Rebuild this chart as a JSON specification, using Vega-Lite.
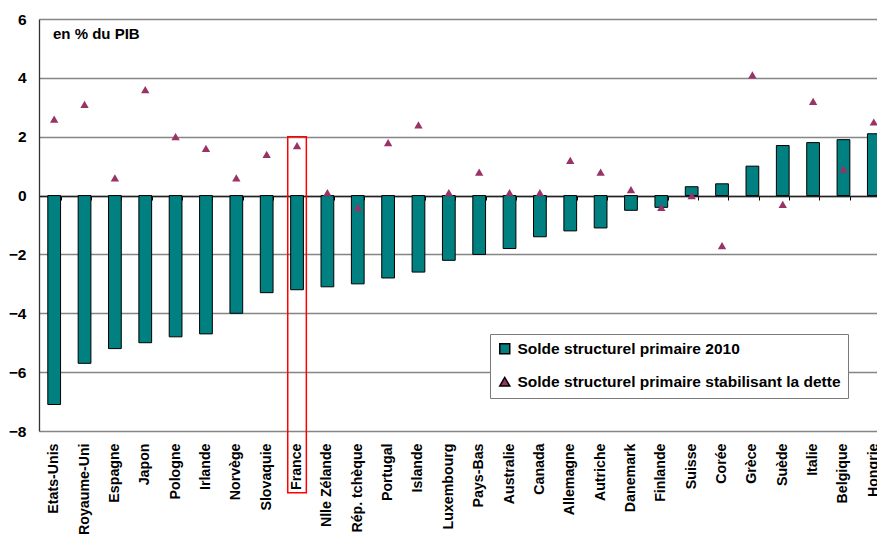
{
  "$schema": "https://vega.github.io/schema/vega-lite/v6.json",
  "width": 838,
  "height": 412,
  "autosize": {"type": "none"},
  "padding": {"left": 39, "top": 19, "right": 0, "bottom": 106},
  "background": "white",
  "title": {
    "text": "en % du PIB",
    "frame": "group",
    "anchor": "start",
    "baseline": "alphabetic",
    "offset": -18.5,
    "dx": 14,
    "dy": 23,
    "font": "Liberation Sans",
    "fontSize": 15,
    "fontWeight": "bold",
    "color": "black"
  },
  "config": {
    "view": {"stroke": null},
    "font": "Liberation Sans"
  },
  "data": {
    "values": [
      {"pays": "Etats-Unis", "serie": "Solde structurel primaire 2010", "valeur": -7.1},
      {"pays": "Royaume-Uni", "serie": "Solde structurel primaire 2010", "valeur": -5.7},
      {"pays": "Espagne", "serie": "Solde structurel primaire 2010", "valeur": -5.2},
      {"pays": "Japon", "serie": "Solde structurel primaire 2010", "valeur": -5.0},
      {"pays": "Pologne", "serie": "Solde structurel primaire 2010", "valeur": -4.8},
      {"pays": "Irlande", "serie": "Solde structurel primaire 2010", "valeur": -4.7},
      {"pays": "Norvège", "serie": "Solde structurel primaire 2010", "valeur": -4.0},
      {"pays": "Slovaquie", "serie": "Solde structurel primaire 2010", "valeur": -3.3},
      {"pays": "France", "serie": "Solde structurel primaire 2010", "valeur": -3.2},
      {"pays": "Nlle Zélande", "serie": "Solde structurel primaire 2010", "valeur": -3.1},
      {"pays": "Rép. tchèque", "serie": "Solde structurel primaire 2010", "valeur": -3.0},
      {"pays": "Portugal", "serie": "Solde structurel primaire 2010", "valeur": -2.8},
      {"pays": "Islande", "serie": "Solde structurel primaire 2010", "valeur": -2.6},
      {"pays": "Luxembourg", "serie": "Solde structurel primaire 2010", "valeur": -2.2},
      {"pays": "Pays-Bas", "serie": "Solde structurel primaire 2010", "valeur": -2.0},
      {"pays": "Australie", "serie": "Solde structurel primaire 2010", "valeur": -1.8},
      {"pays": "Canada", "serie": "Solde structurel primaire 2010", "valeur": -1.4},
      {"pays": "Allemagne", "serie": "Solde structurel primaire 2010", "valeur": -1.2},
      {"pays": "Autriche", "serie": "Solde structurel primaire 2010", "valeur": -1.1},
      {"pays": "Danemark", "serie": "Solde structurel primaire 2010", "valeur": -0.5},
      {"pays": "Finlande", "serie": "Solde structurel primaire 2010", "valeur": -0.4},
      {"pays": "Suisse", "serie": "Solde structurel primaire 2010", "valeur": 0.3},
      {"pays": "Corée", "serie": "Solde structurel primaire 2010", "valeur": 0.4},
      {"pays": "Grèce", "serie": "Solde structurel primaire 2010", "valeur": 1.0},
      {"pays": "Suède", "serie": "Solde structurel primaire 2010", "valeur": 1.7},
      {"pays": "Italie", "serie": "Solde structurel primaire 2010", "valeur": 1.8},
      {"pays": "Belgique", "serie": "Solde structurel primaire 2010", "valeur": 1.9},
      {"pays": "Hongrie", "serie": "Solde structurel primaire 2010", "valeur": 2.1},
      {"pays": "Etats-Unis", "serie": "Solde structurel primaire stabilisant la dette", "valeur": 2.6},
      {"pays": "Royaume-Uni", "serie": "Solde structurel primaire stabilisant la dette", "valeur": 3.1},
      {"pays": "Espagne", "serie": "Solde structurel primaire stabilisant la dette", "valeur": 0.6},
      {"pays": "Japon", "serie": "Solde structurel primaire stabilisant la dette", "valeur": 3.6},
      {"pays": "Pologne", "serie": "Solde structurel primaire stabilisant la dette", "valeur": 2.0},
      {"pays": "Irlande", "serie": "Solde structurel primaire stabilisant la dette", "valeur": 1.6},
      {"pays": "Norvège", "serie": "Solde structurel primaire stabilisant la dette", "valeur": 0.6},
      {"pays": "Slovaquie", "serie": "Solde structurel primaire stabilisant la dette", "valeur": 1.4},
      {"pays": "France", "serie": "Solde structurel primaire stabilisant la dette", "valeur": 1.7},
      {"pays": "Nlle Zélande", "serie": "Solde structurel primaire stabilisant la dette", "valeur": 0.1},
      {"pays": "Rép. tchèque", "serie": "Solde structurel primaire stabilisant la dette", "valeur": -0.4},
      {"pays": "Portugal", "serie": "Solde structurel primaire stabilisant la dette", "valeur": 1.8},
      {"pays": "Islande", "serie": "Solde structurel primaire stabilisant la dette", "valeur": 2.4},
      {"pays": "Luxembourg", "serie": "Solde structurel primaire stabilisant la dette", "valeur": 0.1},
      {"pays": "Pays-Bas", "serie": "Solde structurel primaire stabilisant la dette", "valeur": 0.8},
      {"pays": "Australie", "serie": "Solde structurel primaire stabilisant la dette", "valeur": 0.1},
      {"pays": "Canada", "serie": "Solde structurel primaire stabilisant la dette", "valeur": 0.1},
      {"pays": "Allemagne", "serie": "Solde structurel primaire stabilisant la dette", "valeur": 1.2},
      {"pays": "Autriche", "serie": "Solde structurel primaire stabilisant la dette", "valeur": 0.8},
      {"pays": "Danemark", "serie": "Solde structurel primaire stabilisant la dette", "valeur": 0.2},
      {"pays": "Finlande", "serie": "Solde structurel primaire stabilisant la dette", "valeur": -0.4},
      {"pays": "Suisse", "serie": "Solde structurel primaire stabilisant la dette", "valeur": 0.0},
      {"pays": "Corée", "serie": "Solde structurel primaire stabilisant la dette", "valeur": -1.7},
      {"pays": "Grèce", "serie": "Solde structurel primaire stabilisant la dette", "valeur": 4.1},
      {"pays": "Suède", "serie": "Solde structurel primaire stabilisant la dette", "valeur": -0.3},
      {"pays": "Italie", "serie": "Solde structurel primaire stabilisant la dette", "valeur": 3.2},
      {"pays": "Belgique", "serie": "Solde structurel primaire stabilisant la dette", "valeur": 0.9},
      {"pays": "Hongrie", "serie": "Solde structurel primaire stabilisant la dette", "valeur": 2.5}
    ]
  },
  "resolve": {"axis": {"x": "independent"}},
  "layer": [
    {
      "transform": [{"filter": "datum.serie === 'Solde structurel primaire 2010'"}],
      "mark": {"type": "bar", "stroke": "black", "strokeWidth": 1},
      "encoding": {
        "x": {
          "field": "pays",
          "type": "nominal",
          "sort": null,
          "scale": {"range": [0, 850], "paddingInner": 0.58, "paddingOuter": 0.29},
          "axis": {
            "title": null,
            "orient": "bottom",
            "domain": false,
            "ticks": false,
            "labelAngle": -90,
            "labelAlign": "right",
            "labelBaseline": "middle",
            "labelPadding": 12,
            "labelFont": "Liberation Sans",
            "labelFontSize": 14.2,
            "labelFontWeight": "bold",
            "labelColor": "black",
            "labelOverlap": false
          }
        },
        "y": {
          "field": "valeur",
          "type": "quantitative",
          "scale": {"domain": [-8, 6], "nice": false, "zero": false},
          "axis": {
            "title": null,
            "values": [-8, -6, -4, -2, 0, 2, 4, 6],
            "ticks": false,
            "labelPadding": 13,
            "labelFont": "Liberation Sans",
            "labelFontSize": 15.5,
            "labelFontWeight": "bold",
            "labelColor": "black",
            "domainColor": "#333333",
            "domainWidth": 1.3,
            "grid": true,
            "gridColor": "#858585",
            "gridWidth": 1.4
          }
        },
        "color": {
          "field": "serie",
          "type": "nominal",
          "scale": {
            "domain": ["Solde structurel primaire 2010", "Solde structurel primaire stabilisant la dette"],
            "range": ["#008080", "#993366"]
          },
          "legend": {
            "title": null,
            "orient": "none",
            "legendX": 451,
            "legendY": 315,
            "fillColor": "white",
            "strokeColor": "#7a7a7a",
            "padding": 7,
            "rowPadding": 16,
            "labelFont": "Liberation Sans",
            "labelFontSize": 15.5,
            "labelFontWeight": "bold",
            "labelColor": "black",
            "labelOffset": 5,
            "symbolSize": 100,
            "labelLimit": 400,
            "encode": {
              "symbols": {
                "update": {
                  "stroke": {"signal": "datum.value === 'Solde structurel primaire 2010' ? 'black' : 'transparent'"},
                  "strokeWidth": {"value": 1}
                }
              }
            }
          }
        }
      }
    },
    {
      "transform": [{"filter": "datum.serie === 'Solde structurel primaire stabilisant la dette'"}],
      "mark": {"type": "point", "filled": true, "opacity": 1, "size": 70},
      "encoding": {
        "x": {
          "field": "pays",
          "type": "nominal",
          "sort": null,
          "axis": {
            "title": null,
            "orient": "bottom",
            "offset": -235,
            "labels": false,
            "domain": true,
            "domainColor": "#222222",
            "domainWidth": 1.3,
            "ticks": true,
            "tickBand": "extent",
            "tickSize": 4,
            "tickColor": "black",
            "tickWidth": 1,
            "grid": false
          }
        },
        "y": {"field": "valeur", "type": "quantitative"},
        "color": {"field": "serie", "type": "nominal"},
        "shape": {
          "field": "serie",
          "type": "nominal",
          "scale": {
            "domain": ["Solde structurel primaire 2010", "Solde structurel primaire stabilisant la dette"],
            "range": ["square", "triangle-up"]
          }
        }
      }
    },
    {
      "data": {"values": [{}]},
      "mark": {"type": "bar", "fillOpacity": 0, "stroke": "#ff0000", "strokeWidth": 1.5, "width": {"band": 1.46}, "clip": false},
      "encoding": {
        "x": {"datum": "France", "type": "nominal", "axis": null},
        "y": {"datum": 2, "type": "quantitative"},
        "y2": {"datum": -10.1}
      }
    }
  ]
}
